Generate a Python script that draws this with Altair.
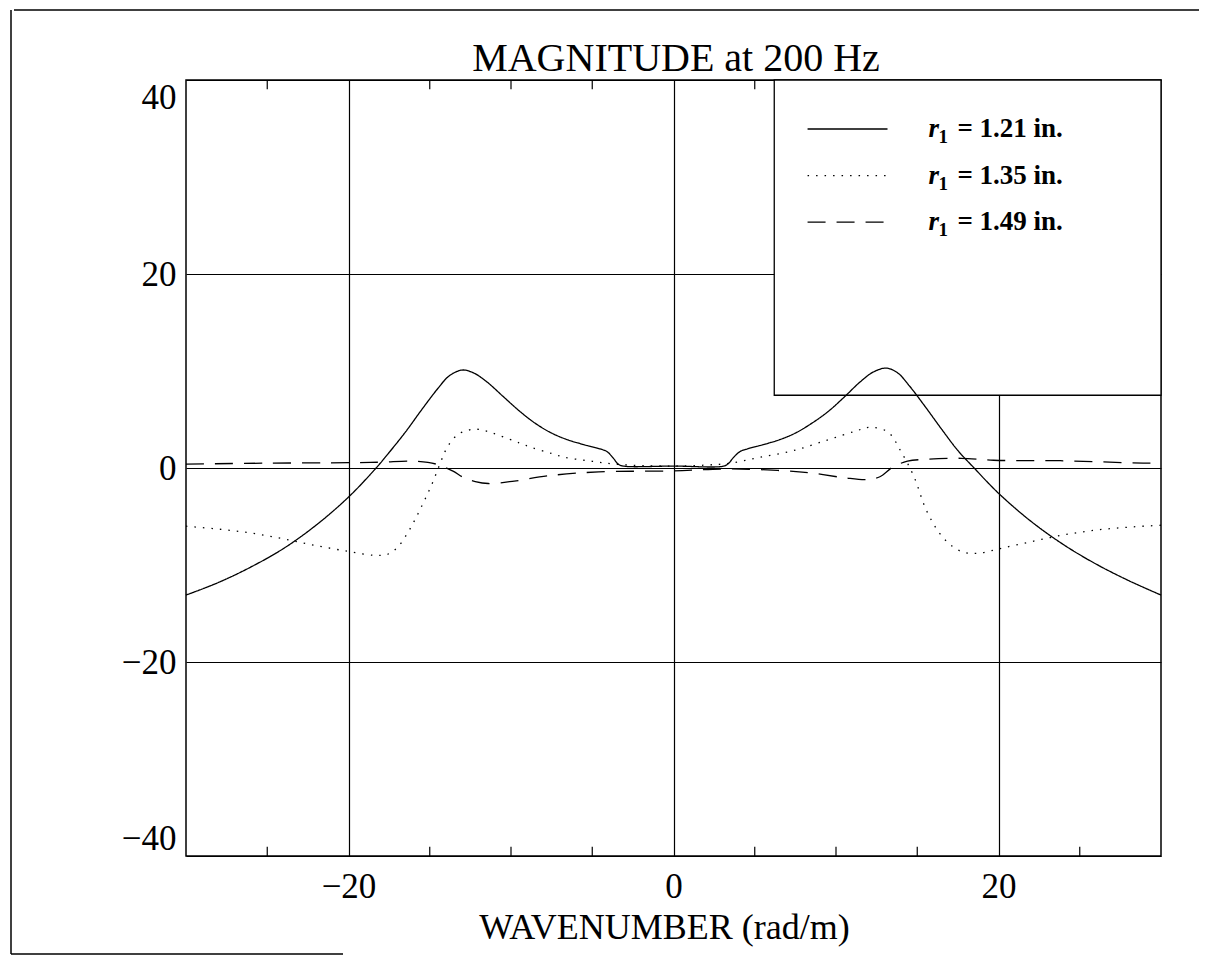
import altair as alt
import pandas as pd

# ---------------- data ----------------
k_r121 = [-30, -28, -26, -24, -22, -20, -18.3, -17.5, -16.5, -15.5, -14.5, -13.8, -13.0,
          -12.3, -11.5, -10.5, -9.5, -8.5, -7.5, -6.5, -5.5, -4.6, -4.1, -3.7, -3.4, -3.1,
          0, 3.1, 3.4, 3.7, 4.1, 4.6, 5.5, 6.5, 7.5, 8.5, 9.5, 10.5, 11.5, 12.3, 13.1,
          13.8, 14.5, 15.5, 16.5, 17.5, 18.5, 20, 22, 24, 26, 28, 30]
v_r121 = [-13.1, -11.8, -10.2, -8.3, -5.9, -3.0, 0.0, 1.6, 3.7, 6.0, 8.2, 9.5, 10.1,
          9.8, 8.9, 7.4, 5.9, 4.6, 3.6, 2.9, 2.4, 2.0, 1.7, 1.0, 0.4, 0.2,
          0.2, 0.2, 0.5, 1.1, 1.7, 2.0, 2.4, 2.9, 3.6, 4.6, 5.8, 7.3, 8.9, 9.9, 10.3,
          9.8, 8.5, 6.3, 4.0, 1.8, 0.0, -2.6, -5.5, -7.9, -9.9, -11.6, -13.1]

k_r135 = [-30, -28, -26, -24, -22, -20, -18.4, -17.6, -17.0, -16.4, -15.9, -15.4, -14.9,
          -14.4, -14.0, -13.5, -13.0, -12.2, -11.5, -10.8, -9.5, -8.7, -7.5, -6.7, -5.5,
          -4.6, -3.6, -2, 0, 2, 3.5, 5.3, 7.4, 9.5, 11.2, 12.1, 13.2, 14.0, 14.8, 15.6,
          16.6, 17.7, 18.7, 20.1, 22, 24, 26, 28, 30]
v_r135 = [-6.0, -6.3, -6.7, -7.3, -8.0, -8.6, -9.0, -8.9, -8.2, -6.8, -5.3, -3.6, -1.8,
          0.3, 1.9, 3.1, 3.7, 4.0, 3.8, 3.4, 2.6, 2.1, 1.5, 1.1, 0.8,
          0.6, 0.4, 0.25, 0.2, 0.3, 0.5, 1.1, 1.8, 2.9, 3.8, 4.2, 3.7, 1.7, -0.9, -4.5,
          -7.2, -8.6, -8.8, -8.3, -7.6, -6.9, -6.4, -6.1, -5.9]

k_r149 = [-30, -25, -20, -18, -16, -14.6, -13.6, -12.9, -12.2, -11.4, -9.8, -7.7, -4.6,
          0, 3.3, 6.4, 8.4, 10.5, 11.9, 12.7, 13.5, 14.4, 15.6, 17.7, 19.7, 23.8, 28.9, 30]
v_r149 = [0.4, 0.5, 0.55, 0.6, 0.7, 0.4, -0.3, -1.0, -1.4, -1.6, -1.35, -0.8, -0.4,
          -0.3, -0.1, -0.25, -0.5, -1.0, -1.2, -0.9, 0.1, 0.7, 0.9, 1.0, 0.8, 0.75, 0.5, 0.5]

series_names = ["r1 = 1.21 in.", "r1 = 1.35 in.", "r1 = 1.49 in."]
legend_rest = ["= 1.21 in.", "= 1.35 in.", "= 1.49 in."]
x_label_values = [-20, 0, 20]
y_label_values = [-40, -20, 0, 20, 40]
minor_x_ticks = [-25, -15, -10, -5, 5, 10, 15, 25]
legend_box_k = [6.2, 30]
legend_box_v = [7.5, 40]

title_text = "MAGNITUDE at 200 Hz"
x_title_text = "WAVENUMBER (rad/m)"

# ---------------- tables ----------------
rows = []
for name, ks, vs in zip(series_names, [k_r121, k_r135, k_r149], [v_r121, v_r135, v_r149]):
    for k, v in zip(ks, vs):
        rows.append({"k": k, "v": v, "series": name})
df_lines = pd.DataFrame(rows)

tick_len = 0.95
tick_rows = []
for t in minor_x_ticks:
    tick_rows.append({"k": t, "y0": -40, "y1": -40 + tick_len})
    tick_rows.append({"k": t, "y0": 40, "y1": 40 - tick_len})
df_ticks = pd.DataFrame(tick_rows)

df_box = pd.DataFrame({"k0": [legend_box_k[0]], "k1": [legend_box_k[1]],
                       "v0": [legend_box_v[0]], "v1": [legend_box_v[1]]})

leg_top = 34.95
leg_step = 4.8
df_leg = pd.DataFrame({
    "series": series_names,
    "rest": legend_rest,
    "y": [leg_top - i * leg_step for i in range(3)],
    "x0": [8.25] * 3,
    "x1": [13.17] * 3,
    "xt": [15.69] * 3,
})

FONT = "Liberation Serif"
x_scale = alt.Scale(domain=[-30, 30], nice=False, zero=False)
y_scale = alt.Scale(domain=[-40, 40], nice=False, zero=False)
dash_scale = alt.Scale(domain=series_names, range=[[1, 0], [1.5, 7], [18, 11]])

x_axis = alt.Axis(values=x_label_values, grid=True, gridColor="black", gridOpacity=1,
                  gridWidth=1.2, ticks=False, tickSize=0, domain=False,
                  labelFont=FONT, labelFontSize=35, labelColor="black", labelPadding=13,
                  title=x_title_text, titleFont=FONT, titleFontSize=36,
                  titleFontWeight="normal", titleColor="black", titleY=82, titleX=478,
                  titleAlign="center", titleBaseline="alphabetic")
y_axis = alt.Axis(values=y_label_values, grid=True, gridColor="black", gridOpacity=1,
                  gridWidth=1.2, ticks=False, tickSize=0, domain=False,
                  labelFont=FONT, labelFontSize=35, labelColor="black", labelPadding=10,
                  labelFlush=True, title=None)

ticks = alt.Chart(df_ticks).mark_rule(color="black", strokeWidth=1.2).encode(
    x=alt.X("k:Q", scale=x_scale, axis=x_axis),
    y=alt.Y("y0:Q", scale=y_scale, axis=y_axis),
    y2="y1:Q",
)

box = alt.Chart(df_box).mark_rect(fill="white", stroke="black", strokeWidth=1.3).encode(
    x="k0:Q", x2="k1:Q", y="v0:Q", y2="v1:Q"
)

lines = alt.Chart(df_lines).mark_line(color="black", strokeWidth=1.3,
                                       interpolate="catmull-rom").encode(
    x="k:Q",
    y="v:Q",
    detail="series:N",
    strokeDash=alt.StrokeDash("series:N", scale=dash_scale, legend=None),
)

leg_lines = alt.Chart(df_leg).mark_rule(color="black", strokeWidth=1.3).encode(
    x="x0:Q", x2="x1:Q", y="y:Q",
    strokeDash=alt.StrokeDash("series:N", scale=dash_scale, legend=None),
)

leg_r = alt.Chart(df_leg).mark_text(text="r", font=FONT, fontSize=27, fontWeight="bold",
                                     fontStyle="italic", align="left",
                                     baseline="alphabetic", dy=8, color="black").encode(
    x="xt:Q", y="y:Q")
leg_sub = alt.Chart(df_leg).mark_text(text="1", font=FONT, fontSize=19, fontWeight="bold",
                                       align="left", baseline="alphabetic", dx=10, dy=14,
                                       color="black").encode(
    x="xt:Q", y="y:Q")
leg_rest = alt.Chart(df_leg).mark_text(font=FONT, fontSize=27, fontWeight="bold",
                                        align="left", baseline="alphabetic", dx=29, dy=8,
                                        color="black").encode(
    x="xt:Q", y="y:Q", text="rest:N")

title = alt.Chart(pd.DataFrame({"t": [title_text]})).mark_text(
    font=FONT, fontSize=40, align="center", baseline="alphabetic", color="black"
).encode(text="t:N", x=alt.value(490), y=alt.value(-9))

one = pd.DataFrame({"a": [0]})
frame_top = alt.Chart(one).mark_rule(color="black", strokeWidth=1.5).encode(
    x=alt.value(-172), x2=alt.value(1030), y=alt.value(-70))
frame_left = alt.Chart(one).mark_rule(color="black", strokeWidth=1.5).encode(
    x=alt.value(-175), y=alt.value(-70), y2=alt.value(874))
frame_bottom = alt.Chart(one).mark_rule(color="black", strokeWidth=1.5).encode(
    x=alt.value(-175), x2=alt.value(157), y=alt.value(874))

chart = alt.layer(
    ticks, box, lines, leg_lines, leg_r, leg_sub, leg_rest, title,
    frame_top, frame_left, frame_bottom
).properties(
    width=975, height=776,
    autosize=alt.AutoSizeParams(type="none"),
    padding={"left": 178, "top": 72, "right": 38, "bottom": 100},
    background="white",
).configure_view(stroke="black", strokeWidth=1.5)

chart.save("out.html", embed_options={"renderer": "svg", "actions": False})
